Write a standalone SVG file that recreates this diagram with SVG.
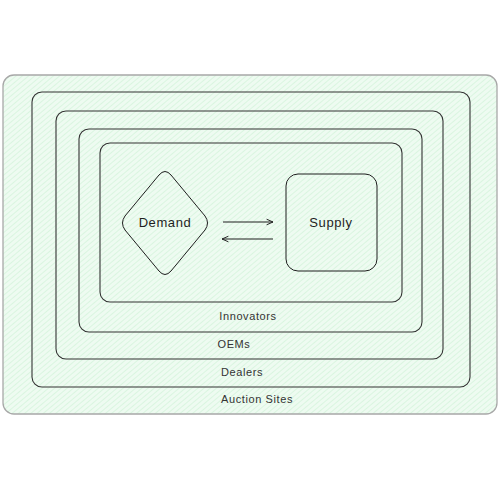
<svg xmlns="http://www.w3.org/2000/svg" width="500" height="500" viewBox="0 0 500 500">
<defs>
<pattern id="hatch" patternUnits="userSpaceOnUse" width="4" height="4" patternTransform="rotate(-40)">
<rect width="4" height="4" fill="#eefbf1"/>
<line x1="0" y1="0" x2="4" y2="0" stroke="#c6efcf" stroke-width="1"/>
</pattern>
<marker id="ah" viewBox="0 0 10 10" refX="9" refY="5" markerWidth="8" markerHeight="8" orient="auto-start-reverse" markerUnits="userSpaceOnUse">
<path d="M1,1.5 L9,5 L1,8.5" fill="none" stroke="#1e1e1e" stroke-width="1.2"/>
</marker>
</defs>
<style>
.ring{fill:none;stroke:#333;stroke-width:1.1}
.lbl{font-family:"Liberation Sans",Arial,sans-serif;font-size:11px;fill:#333;text-anchor:middle;letter-spacing:0.6px}
.big{font-family:"Liberation Sans",Arial,sans-serif;font-size:13px;fill:#1e1e1e;text-anchor:middle;letter-spacing:0.6px}
.edge{stroke:#1e1e1e;stroke-width:1.1;fill:none}
</style>
<rect width="500" height="500" fill="#ffffff"/>
<g id="auction-sites">
<rect x="3" y="75" width="494" height="339" rx="11" fill="url(#hatch)" stroke="#a8a8a8" stroke-width="1.3"/>
<text class="lbl" x="257" y="403">Auction Sites</text>
</g>
<g id="dealers">
<rect class="ring" x="32" y="92" width="438" height="295" rx="10"/>
<text class="lbl" x="242" y="376">Dealers</text>
</g>
<g id="oems">
<rect class="ring" x="56" y="111" width="387" height="248" rx="10"/>
<text class="lbl" x="234" y="348">OEMs</text>
</g>
<g id="innovators">
<rect class="ring" x="79" y="129" width="343" height="203" rx="10"/>
<text class="lbl" x="248" y="320">Innovators</text>
</g>
<g id="market">
<rect class="ring" x="100" y="143" width="302" height="159" rx="10"/>
</g>
<g id="demand">
<path d="M159,175 Q165,168 171,175 L205,216 Q210,223 205,230 L171,271 Q165,278 159,271 L125,230 Q120,223 125,216 Z" fill="none" stroke="#1e1e1e" stroke-width="1"/>
<text class="big" x="165" y="227">Demand</text>
</g>
<g id="supply">
<rect x="286" y="174" width="91" height="97" rx="12" fill="none" stroke="#1e1e1e" stroke-width="1"/>
<text class="big" x="331" y="227">Supply</text>
</g>
<g id="connectors">
<line class="edge" x1="223" y1="222" x2="273" y2="222" marker-end="url(#ah)"/>
<line class="edge" x1="273" y1="239" x2="222" y2="239" marker-end="url(#ah)"/>
</g>
</svg>
